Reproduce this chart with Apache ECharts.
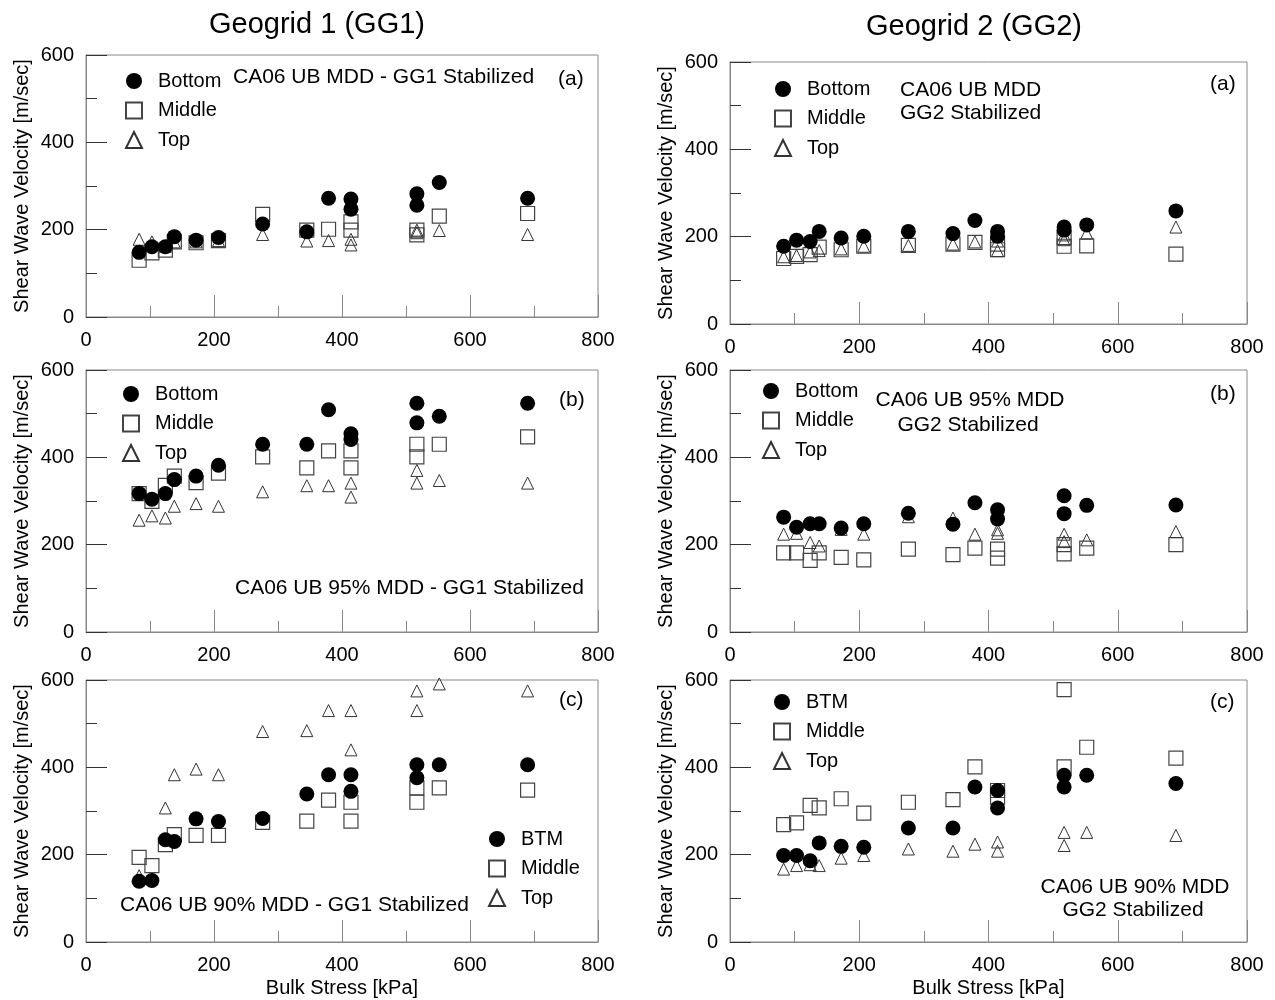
<!DOCTYPE html>
<html>

<head>
    <meta charset="utf-8">
    <title>index</title>
    <script src="https://cdn.jsdelivr.net/npm/echarts@6/dist/echarts.min.js"></script>
    <style>
        html, body { margin: 0; padding: 0; background: #fff; }
    </style>
</head>

<body>
    <div id="main" style="width:1275px;height:1000px;"></div>
</body>
<script>
    // bulk stress states [kPa], same sequence for every panel
    var stress = [83, 103, 124, 138, 172, 207, 276, 345, 379, 414, 414, 517, 517, 552, 690];

    // GG1 (a) CA06 UB MDD
    var gg1aBottom = [148, 161, 161, 184, 176, 182, 213, 195, 272, 270, 247, 282, 256, 308, 272];
    var gg1aMiddle = [130, 147, 153, 172, 170, 175, 235, 199, 201, 218, 199, 199, 188, 231, 237];
    var gg1aTop = [178, 172, 162, 172, 172, 175, 189, 174, 175, 178, 165, 199, 193, 198, 189];
    // GG2 (a)
    var gg2aBottom = [178, 192, 189, 212, 197, 201, 212, 207, 237, 212, 201, 222, 215, 227, 259];
    var gg2aMiddle = [150, 155, 159, 176, 170, 178, 180, 183, 187, 170, 183, 178, 198, 179, 160];
    var gg2aTop = [154, 157, 165, 168, 172, 178, 180, 183, 188, 190, 168, 204, 193, 208, 222];
    // GG1 (b) 95% MDD
    var gg1bBottom = [317, 304, 317, 349, 357, 382, 430, 430, 509, 454, 441, 524, 479, 494, 524];
    var gg1bMiddle = [317, 299, 336, 357, 342, 364, 401, 376, 415, 415, 376, 430, 401, 430, 447];
    var gg1bTop = [256, 266, 261, 288, 294, 288, 321, 335, 335, 341, 309, 370, 341, 347, 341];
    // GG2 (b)
    var gg2bBottom = [263, 240, 248, 248, 238, 248, 272, 247, 296, 280, 259, 312, 271, 290, 291];
    var gg2bMiddle = [181, 181, 164, 181, 171, 165, 190, 177, 192, 190, 169, 179, 200, 192, 200];
    var gg2bTop = [224, 226, 205, 197, 235, 224, 264, 261, 224, 234, 226, 224, 207, 211, 230];
    // GG1 (c) 90% MDD
    var gg1cBottom = [139, 141, 234, 230, 282, 276, 283, 339, 383, 383, 345, 406, 376, 406, 406];
    var gg1cMiddle = [194, 175, 223, 246, 244, 244, 274, 277, 325, 320, 277, 353, 320, 353, 348];
    var gg1cTop = [152, 145, 307, 383, 396, 383, 482, 484, 530, 530, 440, 575, 530, 591, 575];
    // GG2 (c)
    var gg2cBottom = [198, 198, 186, 227, 219, 217, 261, 261, 355, 347, 307, 382, 355, 382, 363];
    var gg2cMiddle = [269, 273, 313, 307, 328, 295, 320, 326, 401, 332, 347, 578, 401, 446, 421];
    var gg2cTop = [167, 175, 177, 175, 192, 198, 213, 208, 224, 229, 208, 251, 221, 251, 244];

    var font = "'Liberation Sans', Arial, sans-serif";

    var panels = [
        { grid: { left: 86, top: 55, width: 512, height: 262 }, bottom: 'Bottom', data: [gg1aBottom, gg1aMiddle, gg1aTop], legend: [125, 71] },
        { grid: { left: 730, top: 62, width: 517, height: 262 }, bottom: 'Bottom', data: [gg2aBottom, gg2aMiddle, gg2aTop], legend: [774, 79] },
        { grid: { left: 86, top: 370, width: 512, height: 262 }, bottom: 'Bottom', data: [gg1bBottom, gg1bMiddle, gg1bTop], legend: [122, 384] },
        { grid: { left: 730, top: 370, width: 517, height: 262 }, bottom: 'Bottom', data: [gg2bBottom, gg2bMiddle, gg2bTop], legend: [762, 381] },
        { grid: { left: 86, top: 680, width: 512, height: 262 }, bottom: 'BTM', data: [gg1cBottom, gg1cMiddle, gg1cTop], legend: [488, 829], xName: true },
        { grid: { left: 730, top: 680, width: 517, height: 262 }, bottom: 'BTM', data: [gg2cBottom, gg2cMiddle, gg2cTop], legend: [773, 692], xName: true }
    ];

    function pairs(ys) {
        return stress.map(function (x, i) { return [x, ys[i]]; });
    }

    var grids = [], xAxes = [], yAxes = [], series = [], legends = [];
    panels.forEach(function (p, k) {
        grids.push(Object.assign({ show: true, borderColor: '#888', borderWidth: 1 }, p.grid));
        xAxes.push({
            type: 'value', gridIndex: k, min: 0, max: 800, interval: 200,
            axisLine: { show: true, lineStyle: { color: '#888' } },
            axisTick: { inside: true, length: 22, lineStyle: { color: '#888' } },
            minorTick: { show: true, splitNumber: 2, length: 11, lineStyle: { color: '#888' } },
            splitLine: { show: false },
            axisLabel: { margin: 13, fontSize: 20, color: '#000', fontFamily: font },
            name: p.xName ? 'Bulk Stress [kPa]' : '',
            nameLocation: 'middle', nameGap: 36,
            nameTextStyle: { fontSize: 20, color: '#000', fontFamily: font }
        });
        yAxes.push({
            type: 'value', gridIndex: k, min: 0, max: 600, interval: 200,
            axisLine: { show: true, lineStyle: { color: '#888' } },
            axisTick: { inside: true, length: 21, lineStyle: { color: '#333' } },
            minorTick: { show: true, splitNumber: 2, length: 11, lineStyle: { color: '#333' } },
            splitLine: { show: false },
            axisLabel: { margin: 12, fontSize: 20, color: '#000', fontFamily: font },
            name: 'Shear Wave Velocity [m/sec]',
            nameLocation: 'middle', nameGap: 54,
            nameTextStyle: { fontSize: 20, color: '#000', fontFamily: font }
        });
        series.push({
            name: 'Middle', type: 'scatter', xAxisIndex: k, yAxisIndex: k,
            symbol: 'rect', symbolSize: 14,
            itemStyle: { color: 'rgba(255,255,255,0)', borderColor: '#444', borderWidth: 1.2, opacity: 1 },
            data: pairs(p.data[1])
        });
        series.push({
            name: 'Top', type: 'scatter', xAxisIndex: k, yAxisIndex: k,
            symbol: 'triangle', symbolSize: 12,
            itemStyle: { color: 'rgba(255,255,255,0)', borderColor: '#333', borderWidth: 1, opacity: 1 },
            data: pairs(p.data[2])
        });
        series.push({
            name: p.bottom, type: 'scatter', xAxisIndex: k, yAxisIndex: k,
            symbol: 'circle', symbolSize: 15,
            itemStyle: { color: '#000', opacity: 1 },
            data: pairs(p.data[0])
        });
        legends.push({
            data: [
                { name: p.bottom, icon: 'circle' },
                { name: 'Middle', icon: 'rect' },
                { name: 'Top', icon: 'triangle' }
            ],
            orient: 'vertical', left: p.legend[0], top: p.legend[1],
            padding: 0, itemWidth: 16, itemHeight: 16, itemGap: 9.5,
            selectedMode: false,
            textStyle: { fontSize: 20, color: '#000', fontFamily: font, padding: [0, 0, 0, 11] }
        });
    });

    function label(text, x, y, align, size) {
        return {
            type: 'text', x: x, y: y,
            style: { text: text, font: (size || 21) + 'px ' + font, fill: '#000', align: align || 'left', verticalAlign: 'middle' }
        };
    }

    var chart = echarts.init(document.getElementById('main'));
    chart.setOption({
        animation: false,
        textStyle: { fontFamily: font },
        grid: grids,
        xAxis: xAxes,
        yAxis: yAxes,
        legend: legends,
        series: series,
        graphic: [
            label('Geogrid 1 (GG1)', 317, 25, 'center', 29),
            label('Geogrid 2 (GG2)', 974, 27, 'center', 29),
            label('CA06 UB MDD - GG1 Stabilized', 233, 77),
            label('(a)', 558, 79),
            label('CA06 UB MDD', 900, 90),
            label('GG2 Stabilized', 900, 113),
            label('(a)', 1210, 84),
            label('CA06 UB 95% MDD - GG1 Stabilized', 235, 588),
            label('(b)', 559, 400),
            label('CA06 UB 95% MDD', 970, 400, 'center'),
            label('GG2 Stabilized', 968, 425, 'center'),
            label('(b)', 1210, 394),
            label('CA06 UB 90% MDD - GG1 Stabilized', 120, 905),
            label('(c)', 559, 700),
            label('CA06 UB 90% MDD', 1135, 887, 'center'),
            label('GG2 Stabilized', 1133, 910, 'center'),
            label('(c)', 1210, 702)
        ]
    });
</script>

</html>
